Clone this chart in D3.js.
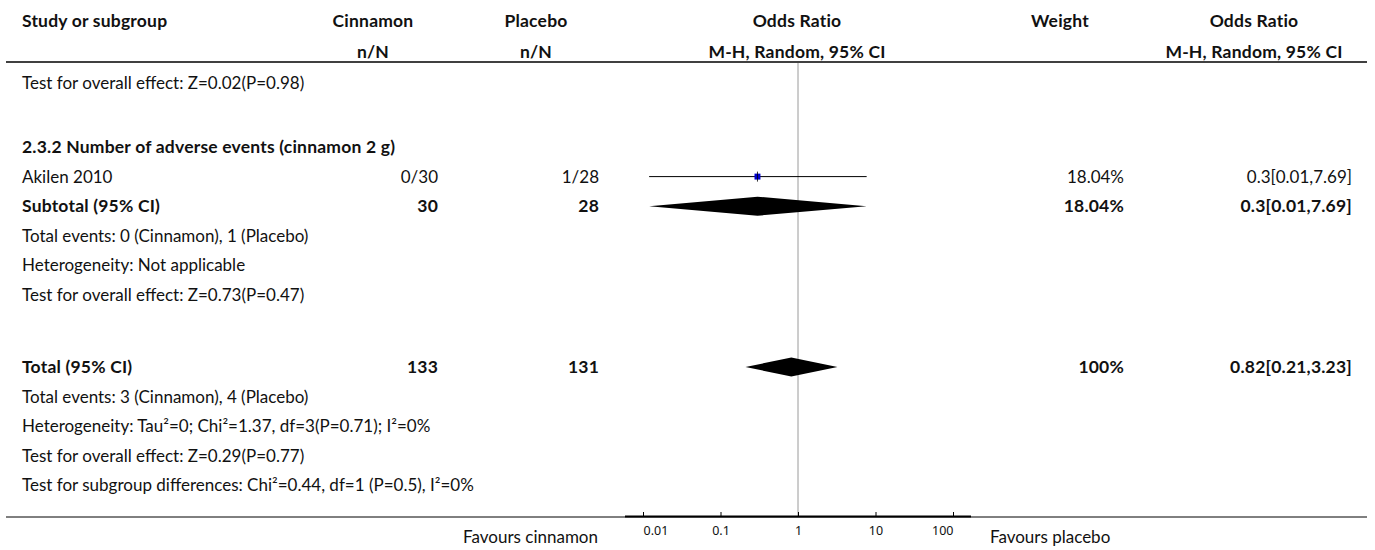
<!DOCTYPE html>
<html><head><meta charset="utf-8">
<script src="https://cdn.jsdelivr.net/npm/d3@7"></script>
<style>
body{margin:0;background:#fff;}
svg text{font-family:Lato,"Noto Sans",sans-serif;fill:#111;}
</style>
</head><body>
<svg id="chart" width="1375" height="550"></svg>
<script>
// ---------- data ----------
const headerTop = ["Study or subgroup","Cinnamon","Placebo","Odds Ratio","Weight","Odds Ratio"];
const headerSub = ["","n/N","n/N","M-H, Random, 95% CI","","M-H, Random, 95% CI"];

const studyNames = ["Akilen 2010"];
const cinnamonCounts = ["0/30"];
const placeboCounts = ["1/28"];
const studyOR = [0.3];
const studyLow = [0.012];
const studyHigh = [7.69];
const studyWeight = [18.04];
const studyWeightLabel = ["18.04%"];
const studyCILabel = ["0.3[0.01,7.69]"];

const subtotalLabel = "Subtotal (95% CI)";
const subtotalN = ["30","28"];
const subtotalOR = [0.3, 0.012, 7.69];
const subtotalWeightLabel = "18.04%";
const subtotalCILabel = "0.3[0.01,7.69]";

const totalLabel = "Total (95% CI)";
const totalN = ["133","131"];
const totalOR = [0.82, 0.21, 3.23];
const totalWeightLabel = "100%";
const totalCILabel = "0.82[0.21,3.23]";

const groupTitle = "2.3.2 Number of adverse events (cinnamon 2 g)";
const topNote = "Test for overall effect: Z=0.02(P=0.98)";
const subgroupNotes = ["Total events: 0 (Cinnamon), 1 (Placebo)","Heterogeneity: Not applicable","Test for overall effect: Z=0.73(P=0.47)"];
const totalNotes = ["Total events: 3 (Cinnamon), 4 (Placebo)","Heterogeneity: Tau²=0; Chi²=1.37, df=3(P=0.71); I²=0%","Test for overall effect: Z=0.29(P=0.77)","Test for subgroup differences: Chi²=0.44, df=1 (P=0.5), I²=0%"];

const tickValues = [0.01,0.1,1,10,100];
const tickLabels = ["0.01","0.1","1","10","100"];
const favoursLeft = "Favours cinnamon";
const favoursRight = "Favours placebo";

// ---------- layout ----------
const svg = d3.select("#chart");
const FS = 17, FSB = 17.5;
const col = {study:22, cinH:373, cinR:438, plaH:536, plaR:599, orH:797, wH:1060, wR:1124, ciH:1254, ciR:1352};
const x = d3.scaleLog().domain([0.01,100]).range([643,953]);

function txt(xp, y, s, anchor, bold){
  const t = svg.append("text").attr("x",xp).attr("y",y).attr("text-anchor",anchor||"start")
    .style("font-size",(bold?FSB:FS)+"px").style("font-weight",bold?"700":"400").text(s);
  if(bold) t.style("letter-spacing","0.2px");
  return t;
}

// header
const headX=[col.study,col.cinH,col.plaH,col.orH,col.wH,col.ciH];
headerTop.forEach((h,i)=>txt(headX[i],27,h,i===0?"start":"middle",true));
headerSub.forEach((h,i)=>{ if(h) txt(headX[i],58,h,"middle",true); });
svg.append("line").attr("x1",6).attr("x2",1367).attr("y1",62).attr("y2",62).attr("stroke","#000").attr("stroke-width",1.5);

// vertical line of no effect
svg.append("line").attr("x1",x(1)).attr("x2",x(1)).attr("y1",63).attr("y2",517).attr("stroke","#9a9a9a").attr("stroke-width",1);

// rows
const rows = [];
rows.push({kind:"note", text:topNote});
rows.push({kind:"gap", h:34.4});
rows.push({kind:"group", text:groupTitle});
studyNames.forEach((n,i)=>rows.push({kind:"study", i}));
rows.push({kind:"subtotal"});
subgroupNotes.forEach(t=>rows.push({kind:"note", text:t}));
rows.push({kind:"gap", h:42.4});
rows.push({kind:"total"});
totalNotes.forEach(t=>rows.push({kind:"note", text:t}));

let y = 89;
const pitch = 29.6;
const wScale = d3.scaleSqrt().domain([0,100]).range([0,14]);
function diamond(vals, cy){
  const [m,lo,hi]=vals, h=9.5;
  svg.append("path").attr("d",`M${x(lo)},${cy}L${x(m)},${cy-h}L${x(hi)},${cy}L${x(m)},${cy+h}Z`).attr("fill","#000");
}
rows.forEach(r=>{
  if(r.kind==="gap"){ y += r.h; return; }
  const cy = y-6;
  if(r.kind==="note") txt(col.study,y,r.text,"start",false);
  else if(r.kind==="group") txt(col.study,y,r.text,"start",true);
  else if(r.kind==="study"){
    const i=r.i;
    txt(col.study,y,studyNames[i]);
    txt(col.cinR,y,cinnamonCounts[i],"end");
    txt(col.plaR,y,placeboCounts[i],"end");
    txt(col.wR,y,studyWeightLabel[i],"end");
    txt(col.ciR,y,studyCILabel[i],"end");
    svg.append("line").attr("x1",x(studyLow[i])).attr("x2",x(studyHigh[i])).attr("y1",cy).attr("y2",cy).attr("stroke","#000").attr("stroke-width",1);
    const s = wScale(studyWeight[i]);
    svg.append("rect").attr("x",x(studyOR[i])-s/2).attr("y",cy-s/2).attr("width",s).attr("height",s).attr("fill","#0000cc");
    svg.append("line").attr("x1",x(studyOR[i])).attr("x2",x(studyOR[i])).attr("y1",cy-5).attr("y2",cy+5).attr("stroke","#000").attr("stroke-width",0.8);
  }
  else if(r.kind==="subtotal"){
    txt(col.study,y,subtotalLabel,"start",true);
    txt(col.cinR,y,subtotalN[0],"end",true);
    txt(col.plaR,y,subtotalN[1],"end",true);
    txt(col.wR,y,subtotalWeightLabel,"end",true);
    txt(col.ciR,y,subtotalCILabel,"end",true);
    diamond(subtotalOR,cy);
  }
  else if(r.kind==="total"){
    txt(col.study,y,totalLabel,"start",true);
    txt(col.cinR,y,totalN[0],"end",true);
    txt(col.plaR,y,totalN[1],"end",true);
    txt(col.wR,y,totalWeightLabel,"end",true);
    txt(col.ciR,y,totalCILabel,"end",true);
    diamond(totalOR,cy);
  }
  y += pitch;
});

// bottom rule and axis
const axisY = 517;
svg.append("line").attr("x1",6).attr("x2",1367).attr("y1",axisY).attr("y2",axisY).attr("stroke","#000").attr("stroke-width",1);
svg.append("line").attr("x1",x.range()[0]-18).attr("x2",x.range()[1]+18).attr("y1",axisY-0.5).attr("y2",axisY-0.5).attr("stroke","#000").attr("stroke-width",2);
const axis = d3.axisBottom(x).tickValues(tickValues).tickFormat((d,i)=>tickLabels[i]).tickSize(-5).tickPadding(9);
const g = svg.append("g").attr("transform",`translate(0,${axisY})`).call(axis);
g.select(".domain").remove();
g.selectAll(".tick line").attr("stroke","#000");
g.selectAll(".tick text").style("font-family","'Noto Sans',sans-serif").style("font-size","12.5px").attr("fill","#111")
  .attr("text-anchor",(d,i)=> i===0?"start":(i===tickValues.length-1?"end":"middle"));
txt(598,543,favoursLeft,"end",false);
txt(990,543,favoursRight,"start",false);
</script>
</body></html>
